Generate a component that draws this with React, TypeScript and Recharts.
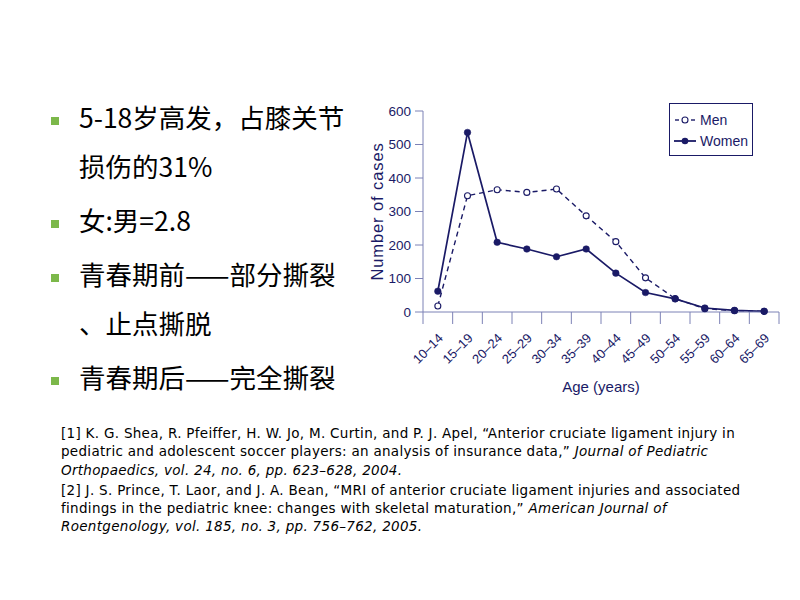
import React from 'react';
import { LineChart, Line, XAxis, YAxis, Legend } from 'recharts';

// ─── Data ─────────────────────────────────────────────────────────────────────

const AGE_GROUPS = ['10–14', '15–19', '20–24', '25–29', '30–34', '35–39', '40–44', '45–49', '50–54', '55–59', '60–64', '65–69'];
const MEN_CASES = [18, 347, 365, 357, 367, 287, 210, 102, 40, 10, 4, 2];
const WOMEN_CASES = [62, 536, 208, 188, 165, 188, 116, 58, 39, 12, 5, 2];
const Y_TICKS = [0, 100, 200, 300, 400, 500, 600];

const BULLETS = [
  ['5-18岁高发，占膝关节', '损伤的31%'],
  ['女:男=2.8'],
  ['青春期前——部分撕裂', '、止点撕脱'],
  ['青春期后——完全撕裂'],
];

// each reference: lines of [text, italic]
const REFERENCES: Array<Array<Array<[string, boolean]>>> = [
  [
    [['[1] K. G. Shea, R. Pfeiffer, H. W. Jo, M. Curtin, and P. J. Apel, “Anterior cruciate ligament injury in', false]],
    [['pediatric and adolescent soccer players: an analysis of insurance data,” ', false], ['Journal of Pediatric', true]],
    [['Orthopaedics, vol. 24, no. 6, pp. 623–628, 2004.', true]],
  ],
  [
    [['[2] J. S. Prince, T. Laor, and J. A. Bean, “MRI of anterior cruciate ligament injuries and associated', false]],
    [['findings in the pediatric knee: changes with skeletal maturation,” ', false], ['American Journal of', true]],
    [['Roentgenology, vol. 185, no. 3, pp. 756–762, 2005.', true]],
  ],
];

// ─── Colors ───────────────────────────────────────────────────────────────────

const NAVY = '#1a1a66';
const AXIS = '#7d82b6';
const BULLET_GREEN = '#7cb84a';
const CHART_FONT = '"Liberation Sans", Arial, sans-serif';

const chartData = AGE_GROUPS.map((age, i) => ({
  age,
  slot: i + 0.5,
  Men: MEN_CASES[i],
  Women: WOMEN_CASES[i],
}));

// boundaries get tick marks, band centres get the rotated labels
const X_TICKS = AGE_GROUPS.flatMap((_, i) => [i, i + 0.5]).concat(AGE_GROUPS.length);

function AgeTick(props: any) {
  const { x, y, payload } = props;
  const v = payload.value as number;
  if (Number.isInteger(v)) {
    return <line x1={x} x2={x} y1={y} y2={y + 12} stroke={AXIS} strokeWidth={1} />;
  }
  const label = AGE_GROUPS[Math.floor(v)];
  return (
    <text
      transform={`translate(${x + 6},${y + 27}) rotate(-45)`}
      textAnchor="end"
      fontSize={13}
      fill={NAVY}
      fontFamily={CHART_FONT}
    >
      {label}
    </text>
  );
}

function CaseLegend() {
  const row = { display: 'flex', alignItems: 'center', height: 21 } as const;
  return (
    <div
      style={{
        width: 84,
        height: 53,
        boxSizing: 'border-box',
        border: `1.5px solid ${NAVY}`,
        background: '#fff',
        padding: '5px 0 0 4px',
        fontFamily: CHART_FONT,
        fontSize: 14,
        color: NAVY,
        lineHeight: 1,
      }}
    >
      <div style={row}>
        <svg width={22} height={10} style={{ marginRight: 4 }}>
          <line x1={1} x2={5} y1={5} y2={5} stroke={NAVY} strokeWidth={1.4} />
          <circle cx={11} cy={5} r={3} fill="#fff" stroke={NAVY} strokeWidth={1.1} />
          <line x1={17} x2={21} y1={5} y2={5} stroke={NAVY} strokeWidth={1.4} />
        </svg>
        <span>Men</span>
      </div>
      <div style={row}>
        <svg width={22} height={10} style={{ marginRight: 4 }}>
          <line x1={0} x2={22} y1={5} y2={5} stroke={NAVY} strokeWidth={1.8} />
          <circle cx={11} cy={5} r={3.3} fill={NAVY} />
        </svg>
        <span>Women</span>
      </div>
    </div>
  );
}

function CasesChart() {
  return (
    <LineChart
      width={450}
      height={320}
      data={chartData}
      margin={{ top: 21, right: 11, bottom: 8, left: 33 }}
      style={{ fontFamily: CHART_FONT }}
    >
      <XAxis
        type="number"
        dataKey="slot"
        domain={[0, AGE_GROUPS.length]}
        ticks={X_TICKS}
        interval={0}
        tickSize={0}
        tickMargin={0}
        tickLine={false}
        axisLine={{ stroke: AXIS }}
        height={90}
        tick={(p: any) => <AgeTick {...p} />}
        label={{
          value: 'Age (years)',
          position: 'insideBottom',
          offset: 10,
          fill: NAVY,
          fontSize: 15,
          fontFamily: CHART_FONT,
        }}
      />
      <YAxis
        domain={[0, 600]}
        ticks={Y_TICKS}
        interval={0}
        width={50}
        tickSize={8}
        tickMargin={4}
        axisLine={{ stroke: AXIS }}
        tickLine={{ stroke: AXIS }}
        tick={{ fill: NAVY, fontSize: 13.5, fontFamily: CHART_FONT }}
        label={{
          value: 'Number of cases',
          angle: -90,
          position: 'insideLeft',
          offset: 4,
          style: { textAnchor: 'middle', fill: NAVY, fontSize: 16.5, letterSpacing: 0.9, fontFamily: CHART_FONT },
        }}
      />
      <Legend
        content={() => <CaseLegend />}
        layout="horizontal"
        verticalAlign="middle"
        align="center"
        wrapperStyle={{ left: 329, top: 13, width: 84 }}
      />
      <Line
        type="linear"
        dataKey="Men"
        stroke={NAVY}
        strokeWidth={1.4}
        strokeDasharray="5 4"
        dot={{ r: 3, fill: '#fff', stroke: NAVY, strokeWidth: 1.1, strokeDasharray: '' }}
        isAnimationActive={false}
      />
      <Line
        type="linear"
        dataKey="Women"
        stroke={NAVY}
        strokeWidth={1.7}
        dot={{ r: 3.3, fill: NAVY, stroke: NAVY, strokeWidth: 0.5 }}
        isAnimationActive={false}
      />
    </LineChart>
  );
}

export default function App() {
  return (
    <div
      style={{
        position: 'absolute',
        left: 0,
        top: 0,
        width: 800,
        height: 600,
        background: '#fff',
        overflow: 'hidden',
      }}
    >
      {/* Bullet points */}
      <div style={{ position: 'absolute', left: 0, top: 92, width: 360 }}>
        {BULLETS.map((lines, bi) => (
          <div key={bi} style={{ position: 'relative', marginBottom: 5 }}>
            <div
              style={{
                position: 'absolute',
                left: 51,
                top: 25,
                width: 8,
                height: 8,
                background: BULLET_GREEN,
              }}
            />
            {lines.map((t) => (
              <div
                key={t}
                style={{
                  paddingLeft: 79,
                  height: 49,
                  lineHeight: '49px',
                  fontSize: 26.5,
                  fontFamily: '"Noto Sans CJK SC", sans-serif',
                  color: '#000',
                  whiteSpace: 'nowrap',
                }}
              >
                {t}
              </div>
            ))}
          </div>
        ))}
      </div>

      {/* Chart */}
      <div style={{ position: 'absolute', left: 340, top: 90, width: 450, height: 320 }}>
        <CasesChart />
      </div>

      {/* References */}
      <div
        style={{
          position: 'absolute',
          left: 61,
          top: 424,
          fontFamily: '"DejaVu Sans", sans-serif',
          fontSize: 13.5,
          letterSpacing: 0.3,
          color: '#000',
        }}
      >
        {REFERENCES.map((ref, ri) => (
          <div key={ri} style={{ marginBottom: 2 }}>
            {ref.map((segs, li) => (
              <div key={li} style={{ height: 18.3, lineHeight: '18.3px', whiteSpace: 'nowrap' }}>
                {segs.map(([t, it], si) => (
                  <span key={si} style={{ fontStyle: it ? 'italic' : 'normal' }}>
                    {t}
                  </span>
                ))}
              </div>
            ))}
          </div>
        ))}
      </div>
    </div>
  );
}
